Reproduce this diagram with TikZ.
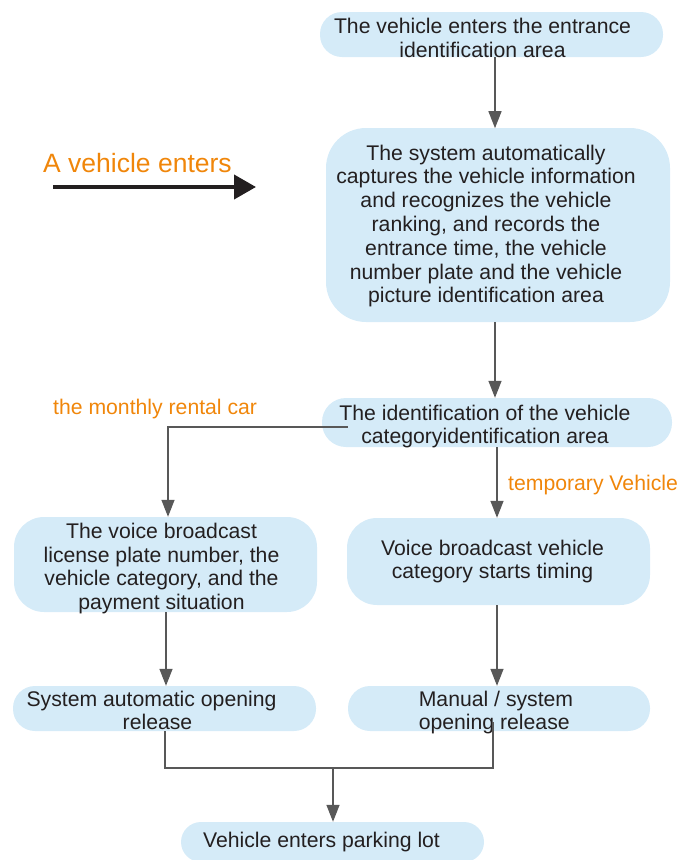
\documentclass[tikz,border=0pt]{standalone}
\usepackage{fontspec}
\setmainfont{Liberation Sans}
\usetikzlibrary{arrows.meta}
\definecolor{boxblue}{RGB}{213,235,248}
\definecolor{txtdark}{RGB}{35,31,32}
\definecolor{arrgray}{RGB}{88,88,88}
\definecolor{orangelbl}{RGB}{240,134,10}
\tikzset{
  flowbox/.style={draw=none, fill=boxblue, inner sep=0pt},
  boxtext/.style={inner sep=0pt, align=center, text=txtdark, font=\fontsize{21.2}{23.8}\selectfont},
  flowarr/.style={draw=arrgray, line width=1.4pt, -{Triangle[length=17pt,width=13pt]}},
  flowline/.style={draw=arrgray, line width=1.4pt},
  orangetxt/.style={text=orangelbl, inner sep=0pt, font=\fontsize{21.2}{23.8}\selectfont}
}
\begin{document}
\begin{tikzpicture}[x=1pt,y=1pt]
\useasboundingbox (0,0) rectangle (680,-860);
% boxes
\node[flowbox, minimum width=343pt, minimum height=45pt, rounded corners=22pt] (b1) at (491.5,-34.5) {};
\node[boxtext] (t1) at ([xshift=-9pt,yshift=-3.5pt]b1.center) {The vehicle enters the entrance\\identification area};
\node[flowbox, minimum width=344pt, minimum height=194pt, rounded corners=40pt] (b2) at (498,-225) {};
\node[boxtext] (t2) at ([xshift=-12pt,yshift=-1pt]b2.center)
  {The system automatically\\captures the vehicle information\\and recognizes the vehicle\\ranking, and records the\\entrance time, the vehicle\\number plate and the vehicle\\picture identification area};
\node[flowbox, minimum width=350pt, minimum height=49pt, rounded corners=24pt] (b3) at (497,-422.5) {};
\node[boxtext] (t3) at ([xshift=-12pt,yshift=-4pt]b3.center) {The identification of the vehicle\\categoryidentification area};
\node[flowbox, minimum width=303pt, minimum height=95pt, rounded corners=30pt] (b4) at (165.5,-564.5) {};
\node[boxtext] (t4) at ([xshift=-4pt,yshift=-4pt]b4.center)
  {The voice broadcast\\license plate number, the\\vehicle category, and the\\payment situation};
\node[flowbox, minimum width=303pt, minimum height=87pt, rounded corners=30pt] (b5) at (498.5,-561.5) {};
\node[boxtext] (t5) at ([xshift=-6pt]b5.center) {Voice broadcast vehicle\\category starts timing};
\node[flowbox, minimum width=303pt, minimum height=45pt, rounded corners=22pt] (b6) at (164.5,-708.5) {};
\node[boxtext] (t6) at ([xshift=-13pt,yshift=-2pt]b6.center) {System automatic opening\\\hspace*{12pt}release};
\node[flowbox, minimum width=302pt, minimum height=45pt, rounded corners=22pt] (b7) at (499,-708.5) {};
\node[boxtext, align=left] (t7) at ([xshift=-3pt,yshift=-4pt]b7.center) {Manual / system\\opening release};
\node[flowbox, minimum width=303pt, minimum height=40pt, rounded corners=20pt] (b8) at (332.5,-842) {};
\node[boxtext] (t8) at ([xshift=-11pt]b8.center) {Vehicle enters parking lot};
% labels
\node[orangetxt, anchor=west] (lmonth) at (53,-409) {the monthly rental car};
\node[orangetxt, anchor=west] (ltemp) at (508,-485) {temporary Vehicle};
\node[text=orangelbl, inner sep=0pt, anchor=west, font=\fontsize{26.5}{30}\selectfont] (lenter) at (43,-163) {A vehicle enters};
% big arrow
\coordinate (ea) at (53,-187);
\coordinate (eb) at (256,-187);
\draw[draw=txtdark, line width=4pt, -{Triangle[length=22pt,width=24pt]}] (ea) -- (eb);
% connectors
\draw[flowarr] (b2.north |- b1.south) ++(-3,0) -- ++(0,-71);
\draw[flowarr] ([xshift=-3pt]b2.south) -- ([xshift=-3pt]b2.south |- b3.north);
\draw[flowarr] ([xshift=26pt,yshift=-4.5pt]b3.west) -| ([xshift=2.5pt]b4.north);
\draw[flowarr] (b3.south) -- (b3.south |- b5.north);
\draw[flowarr] ([xshift=0.5pt]b4.south) -- ([xshift=0.5pt]b4.south |- b6.north);
\draw[flowarr] ([xshift=-1.5pt]b5.south) -- ([xshift=-1.5pt]b5.south |- b7.north);
\coordinate (j) at (333,-768);
\draw[flowline] ([xshift=0.5pt]b6.south) |- (j);
\draw[flowline] ([xshift=-6pt,yshift=9pt]b7.south) |- (j);
\draw[flowarr] (j) -- (j |- b8.north);
\end{tikzpicture}
\end{document}
